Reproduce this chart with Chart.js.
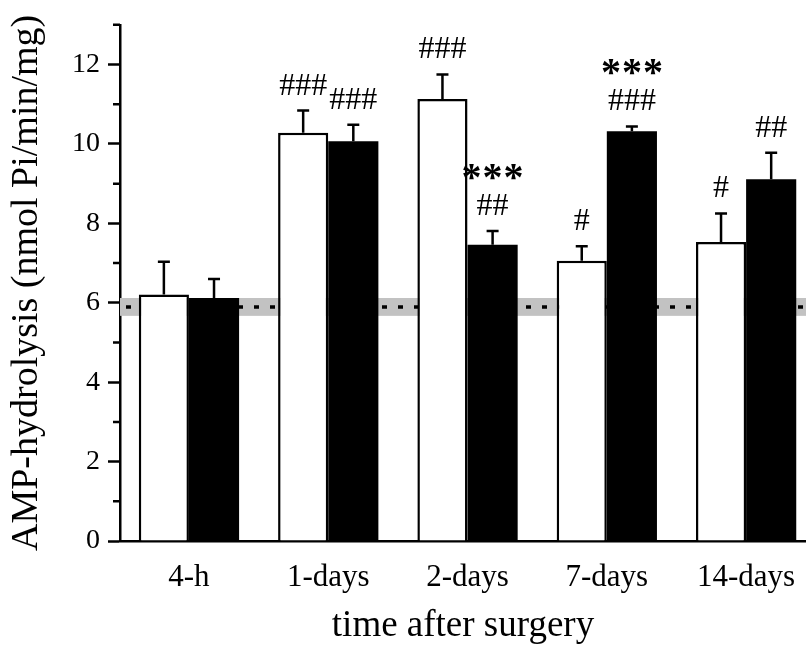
<!DOCTYPE html>
<html lang="en">
<head>
<meta charset="UTF-8" />
<title>AMP-hydrolysis</title>
<script src="https://cdn.jsdelivr.net/npm/chart.js"></script>
<style>
  html, body { margin: 0; padding: 0; background: #fff; }
  #wrap { width: 806px; height: 648px; }
</style>
</head>
<body>
<div id="wrap"><canvas id="barChart"></canvas></div>
<script>
// datos
const categories = ["4-h", "1-days", "2-days", "7-days", "14-days"];
const openValues = [6.21, 10.28, 11.13, 7.06, 7.53];
const openErrors = [0.82, 0.56, 0.62, 0.36, 0.72];
const filledValues = [6.12, 10.07, 7.46, 10.32, 9.11];
const filledErrors = [0.48, 0.41, 0.35, 0.12, 0.67];
const openHash = ["", "###", "###", "#", "#"];
const filledHash = ["", "###", "##", "###", "##"];
const filledStars = ["", "", "***", "***", ""];
const controlBand = [5.67, 6.12];
const controlMean = 5.89;
const yMajorTicks = [0, 2, 4, 6, 8, 10, 12];
const yMinorTicks = [1, 3, 5, 7, 9, 11, 13];

Chart.defaults.font.family = "'Liberation Serif', 'Times New Roman', serif";
Chart.defaults.color = "#000";

const ctx = document.getElementById("barChart").getContext("2d");

// banda de control, barras de error, asteriscos y marcas menores
const decorations = {
  id: "decorations",
  beforeDatasetsDraw(chart) {
    const { ctx, chartArea: a, scales: { y } } = chart;
    ctx.save();
    const top = y.getPixelForValue(controlBand[1]);
    const bot = y.getPixelForValue(controlBand[0]);
    ctx.fillStyle = "#c2c2c2";
    ctx.fillRect(a.left, top, a.right - a.left, bot - top);
    const ym = y.getPixelForValue(controlMean);
    ctx.strokeStyle = "#000";
    ctx.lineWidth = 3.5;
    ctx.setLineDash([5, 11]);
    ctx.beginPath();
    ctx.moveTo(a.left + 6, ym);
    ctx.lineTo(a.right, ym);
    ctx.stroke();
    ctx.restore();
  },
  afterDatasetsDraw(chart) {
    const { ctx, chartArea: a, scales: { y } } = chart;
    const errs = [openErrors, filledErrors];
    const hashes = [openHash, filledHash];
    const stars = [["", "", "", "", ""], filledStars];
    ctx.save();
    chart.data.datasets.forEach((ds, d) => {
      const meta = chart.getDatasetMeta(d);
      meta.data.forEach((bar, i) => {
        const v = ds.data[i].y;
        const yTop = y.getPixelForValue(v);
        const yCap = y.getPixelForValue(v + errs[d][i]);
        ctx.strokeStyle = "#000";
        ctx.lineWidth = 2.5;
        ctx.beginPath();
        ctx.moveTo(bar.x, yTop);
        ctx.lineTo(bar.x, yCap);
        ctx.moveTo(bar.x - 6, yCap);
        ctx.lineTo(bar.x + 6, yCap);
        ctx.stroke();

        ctx.fillStyle = "#000";
        ctx.textAlign = "center";
        ctx.textBaseline = "alphabetic";
        if (hashes[d][i]) {
          ctx.font = "32px 'Liberation Serif'";
          ctx.fillText(hashes[d][i], bar.x, yCap - 16);
        }
        if (stars[d][i]) {
          ctx.font = "bold 40px 'Liberation Serif'";
          const n = stars[d][i].length;
          for (let k = 0; k < n; k++) {
            ctx.fillText("*", bar.x + (k - (n - 1) / 2) * 21, yCap - 41);
          }
        }
      });
    });
    // marcas menores del eje y
    ctx.strokeStyle = "#000";
    ctx.lineWidth = 2.5;
    ctx.beginPath();
    yMinorTicks.forEach(t => {
      const py = y.getPixelForValue(t);
      ctx.moveTo(a.left - 7, py);
      ctx.lineTo(a.left, py);
    });
    ctx.stroke();
    ctx.restore();
  }
};

new Chart(ctx, {
  type: "bar",
  data: {
    datasets: [
      {
        label: "open",
        data: openValues.map((v, i) => ({ x: i, y: v })),
        backgroundColor: "#fff",
        borderColor: "#000",
        borderWidth: 2.5,
        borderSkipped: "bottom"
      },
      {
        label: "filled",
        data: filledValues.map((v, i) => ({ x: i, y: v })),
        backgroundColor: "#000",
        borderColor: "#000",
        borderWidth: 0
      }
    ]
  },
  options: {
    responsive: true,
    maintainAspectRatio: false,
    animation: false,
    categoryPercentage: 0.72,
    barPercentage: 1,
    layout: { padding: { top: 21, right: 0, left: 0, bottom: 0 } },
    plugins: { legend: { display: false }, tooltip: { enabled: false } },
    scales: {
      x: {
        type: "linear",
        offset: false,
        min: -0.495,
        max: 4.43,
        afterBuildTicks: s => { s.ticks = categories.map((c, i) => ({ value: i })); },
        afterFit: s => { s.height = 107; s.paddingRight = 0; s.paddingLeft = 0; },
        grid: { display: false, drawTicks: false },
        border: { display: true, color: "#000", width: 2.5 },
        ticks: {
          padding: 18,
          font: { size: 31 },
          callback: v => categories[v]
        },
        title: {
          display: true,
          text: "time after surgery",
          font: { size: 37 },
          padding: { top: 0, bottom: 0 }
        }
      },
      y: {
        min: 0,
        max: 13,
        afterBuildTicks: s => { s.ticks = yMajorTicks.map(v => ({ value: v })); },
        afterFit: s => { s.width = 120; },
        grid: { drawOnChartArea: false, tickLength: 12, tickWidth: 2.5, tickColor: "#000" },
        border: { display: true, color: "#000", width: 2.5 },
        ticks: { padding: 8, font: { size: 28 } },
        title: {
          display: true,
          text: "AMP-hydrolysis (nmol Pi/min/mg)",
          font: { size: 38 },
          padding: { top: 4, bottom: 0 }
        }
      }
    }
  },
  plugins: [decorations]
});
</script>
</body>
</html>
